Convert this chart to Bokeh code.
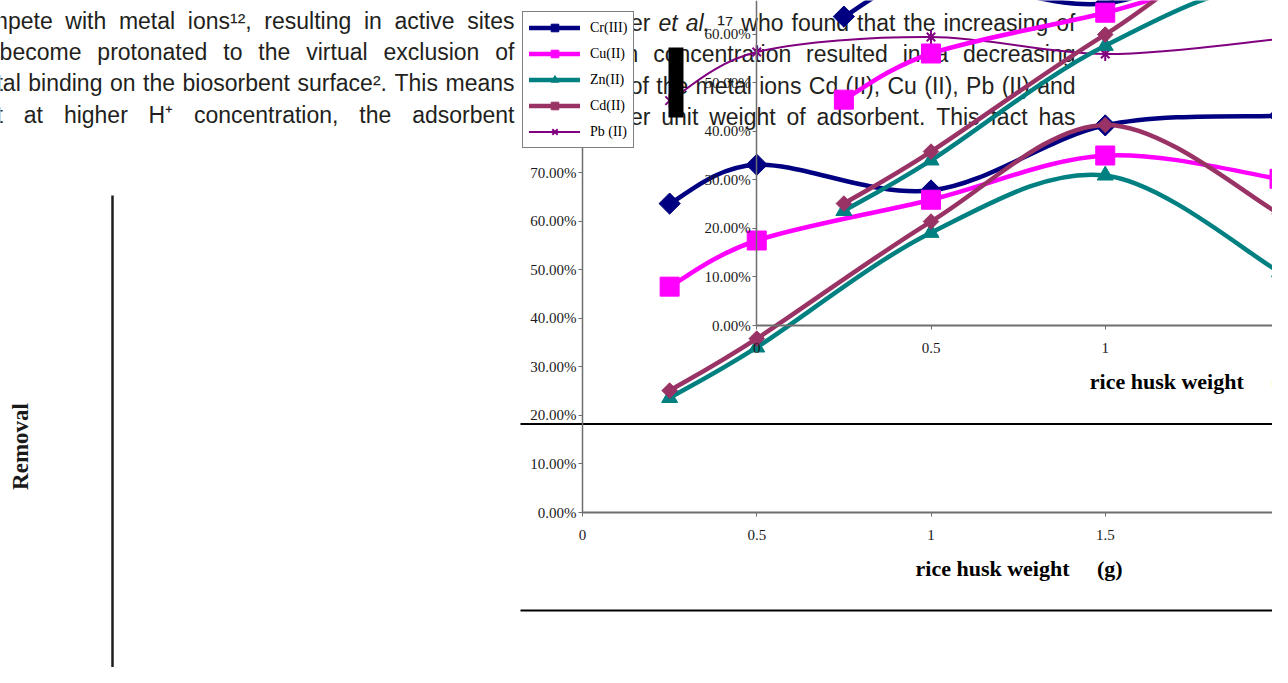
import math
from bokeh.plotting import figure
from bokeh.models import (Range1d, LinearAxis, FixedTicker, CustomJSTickFormatter,
                          Legend, LegendItem)
from bokeh.core.properties import value
from bokeh.embed import file_html
from bokeh.resources import INLINE

# ---------------- data ----------------
rice_husk_weight_g = [0.25, 0.5, 1.0, 1.5, 2.0]
cr_removal_pct = [63.6, 71.6, 66.3, 79.7, 81.7]
cu_removal_pct = [46.5, 56.0, 64.4, 73.5, 68.7]
zn_removal_pct = [23.6, 34.0, 57.6, 69.4, 49.5]
cd_removal_pct = [25.1, 35.8, 59.9, 79.8, 61.5]
pb_removal_pct = [84.8, 94.8, 97.9, 94.4, 97.5]
series_labels = ["Cr(III)", "Cu(II)", "Zn(II)", "Cd(II)", "Pb (II)"]
y_tick_values = [0, 10, 20, 30, 40, 50, 60, 70, 80, 90, 100]
x_tick_values = [0, 0.5, 1, 1.5, 2]
x_axis_title = "rice husk weight" + "\u00a0" * 5 + "(g)"
y_axis_title = "Removal"

left_column_lines = [
    "compete with metal ions\u00b9\u00b2, resulting in active sites",
    "to become protonated to the virtual exclusion of",
    "metal binding on the biosorbent surface\u00b2. This means",
    "that at higher H\u207a concentration, the adsorbent",
]
middle_column_lines = [
    "Montanher et al. \u00b9\u2077 who found that the increasing of",
    "rice bran concentration resulted in a decreasing",
    "removal of the metal ions Cd (II), Cu (II), Pb (II) and",
    "Zn (II) per unit weight of adsorbent. This fact has",
]
italic_words = {"et", "al."}

# ---------------- page geometry (picture pixels) ----------------
W, H = 1272, 667
PX0, PY0 = 0, 0
PX1, PY1 = PX0 + W, PY0 + H
PX_PER_G = 348.5
PX_PER_PCT = 4.857
BIG_ORIGIN = (582.0, 512.0)
COPY_ORIGIN = (756.25, 325.0)

p = figure(width=W, height=H, x_range=Range1d(PX0, PX1), y_range=Range1d(PY1, PY0),
           output_backend="svg", toolbar_location=None,
           x_axis_location=None, y_axis_location=None, min_border=0,
           outline_line_color=None, background_fill_color="white",
           border_fill_color="white")
p.xgrid.visible = False
p.ygrid.visible = False


def chart_ranges(origin):
    ox, oy = origin
    xr = Range1d((PX0 - ox) / PX_PER_G, (PX1 - ox) / PX_PER_G)
    yr = Range1d((oy - PY1) / PX_PER_PCT, (oy - PY0) / PX_PER_PCT)
    return xr, yr


bx, by = chart_ranges(BIG_ORIGIN)
cx, cy = chart_ranges(COPY_ORIGIN)
p.extra_x_ranges = {"bx": bx, "cx": cx}
p.extra_y_ranges = {"by": by, "cy": cy}

# ---------------- body text (justified columns) ----------------
ARIAL = dict(zip("abcdefghijklmnopqrstuvwxyz",
                 [556, 556, 500, 556, 556, 278, 556, 556, 222, 222, 500, 222, 833,
                  556, 556, 556, 556, 333, 500, 278, 556, 500, 722, 500, 500, 500]))
ARIAL.update(dict(zip("ABCDEFGHIJKLMNOPQRSTUVWXYZ",
                      [667, 667, 722, 722, 667, 611, 778, 722, 278, 500, 667, 556, 833,
                       722, 778, 667, 778, 722, 667, 611, 722, 667, 944, 667, 667, 611])))
ARIAL.update({" ": 278, ",": 278, ".": 278, "(": 333, ")": 333, "+": 584,
              "\u00b9": 333, "\u00b2": 333, "\u00b3": 333, "\u2077": 333, "\u207a": 333})
for d in "0123456789":
    ARIAL[d] = 556

BODY_SIZE = 23


def word_w(w):
    return sum(ARIAL.get(ch, 556) for ch in w) * BODY_SIZE / 1000.0


def justify(line, x0, x1):
    words = line.split(" ")
    widths = [word_w(w) for w in words]
    gap = (x1 - x0 - sum(widths)) / (len(words) - 1)
    rights, pos = [], x0
    for w in widths:
        rights.append(pos + w)
        pos += w + gap
    return words, rights


def draw_column(lines, x0, x1, baselines):
    normal = dict(x=[], y=[], text=[])
    ital = dict(x=[], y=[], text=[])
    for line, base in zip(lines, baselines):
        words, rights = justify(line, x0, x1)
        for w, r in zip(words, rights):
            if r < PX0 + 2:
                continue  # entirely outside the page crop
            tgt = ital if w in italic_words else normal
            tgt["x"].append(r)
            tgt["y"].append(base)
            tgt["text"].append(w)
    common = dict(text_align="right", text_baseline="alphabetic",
                  text_font=value("Liberation Sans"), text_font_size=f"{BODY_SIZE}px",
                  text_color="#231f20")
    p.text(x=normal["x"], y=normal["y"], text=normal["text"], **common)
    if ital["x"]:
        p.text(x=ital["x"], y=ital["y"], text=ital["text"], text_font_style="italic", **common)


draw_column(left_column_lines, -36, 514, [20, 51, 82.5, 114])
draw_column(middle_column_lines, 540, 1075, [22, 53.5, 85, 116.5])

# ---------------- page decorations ----------------
p.segment(x0=[112], y0=[195], x1=[112], y1=[700], line_color="#1e1e1e", line_width=2.5)
p.segment(x0=[520, 520], y0=[423.5, 610], x1=[1300, 1300], y1=[423.5, 610],
          line_color="black", line_width=2)

p.text(x=[19.5], y=[446], text=[y_axis_title], angle=math.pi / 2, text_align="center",
       text_baseline="middle", text_font=value("Liberation Serif"), text_font_style="bold",
       text_font_size="23px", text_color="#1a1a1a")

for (ox, oy) in (BIG_ORIGIN, COPY_ORIGIN):
    p.text(x=[915 + ox - BIG_ORIGIN[0]], y=[568 + oy - BIG_ORIGIN[1]], text=[x_axis_title],
           text_align="left", text_baseline="alphabetic",
           text_font=value("Liberation Serif"), text_font_style="bold",
           text_font_size="22px", text_color="black")

# ---------------- chart axes ----------------
def add_axes(xn, yn):
    common = dict(x_range_name=xn, y_range_name=yn, fixed_location=0,
                  axis_line_color="#6e6e6e", major_tick_line_color="#6e6e6e",
                  major_tick_in=0, major_tick_out=4, minor_tick_line_color=None,
                  major_label_text_font="Liberation Serif",
                  major_label_text_font_size="15px", major_label_text_color="#1a1a1a")
    ya = LinearAxis(bounds=(0, 100), ticker=FixedTicker(ticks=y_tick_values),
                    formatter=CustomJSTickFormatter(code="return tick.toFixed(2) + '%';"),
                    axis_line_width=1.5, major_label_standoff=2, **common)
    xa = LinearAxis(bounds=(0, 2.3), ticker=FixedTicker(ticks=x_tick_values),
                    formatter=CustomJSTickFormatter(code="return String(tick);"),
                    axis_line_width=2, major_label_standoff=13, **common)
    p.add_layout(ya, "left")
    p.add_layout(xa, "below")


add_axes("bx", "by")
add_axes("cx", "cy")

# ---------------- series ----------------
all_series = [cr_removal_pct, cu_removal_pct, zn_removal_pct, cd_removal_pct, pb_removal_pct]
styles = [
    dict(color="#000080", lw=4.5, markers=[("square", 15, math.pi / 4, 1)]),
    dict(color="#ff00ff", lw=4.5, markers=[("square", 19, 0, 1)]),
    dict(color="#008080", lw=4.5, markers=[("triangle", 16, 0, 1)]),
    dict(color="#993366", lw=4.5, markers=[("square", 11, math.pi / 4, 1)]),
    dict(color="#800080", lw=2, markers=[("x", 12, 0, 2), ("dash", 14, math.pi / 2, 2)]),
]


def smooth_bezier(xs, ys):
    n = len(xs)
    out = {k: [] for k in ("x0", "y0", "x1", "y1", "cx0", "cy0", "cx1", "cy1")}
    for i in range(n - 1):
        a, d = max(i - 1, 0), min(i + 2, n - 1)
        out["x0"].append(xs[i]); out["y0"].append(ys[i])
        out["x1"].append(xs[i + 1]); out["y1"].append(ys[i + 1])
        out["cx0"].append(xs[i] + (xs[i + 1] - xs[a]) / 6.0)
        out["cy0"].append(ys[i] + (ys[i + 1] - ys[a]) / 6.0)
        out["cx1"].append(xs[i + 1] - (xs[d] - xs[i]) / 6.0)
        out["cy1"].append(ys[i + 1] - (ys[d] - ys[i]) / 6.0)
    return out


def add_series(xn, yn):
    groups = []
    for vals, st in zip(all_series, styles):
        bz = smooth_bezier(rice_husk_weight_g, vals)
        b = p.bezier(line_color=st["color"], line_width=st["lw"], line_cap="round",
                     x_range_name=xn, y_range_name=yn, **bz)
        rs = [b]
        for (mk, sz, ang, lw) in st["markers"]:
            rs.append(p.scatter(x=rice_husk_weight_g, y=vals, marker=mk, size=sz, angle=ang,
                                fill_color=st["color"], line_color=st["color"],
                                line_width=lw, x_range_name=xn, y_range_name=yn))
        groups.append(rs)
    return groups


big_groups = add_series("bx", "by")
add_series("cx", "cy")

# black block on the page
p.quad(left=[668], right=[683], top=[47], bottom=[117], fill_color="black", line_color=None)

# ---------------- legend ----------------
legend = Legend(items=[LegendItem(label=lab, renderers=g) for lab, g in zip(series_labels, big_groups)],
                location=(522, PY1 - 148), margin=0, padding=6, spacing=7,
                glyph_height=19, glyph_width=51, label_height=19, label_standoff=10,
                label_text_font="Liberation Serif", label_text_font_size="14px",
                label_text_color="black", background_fill_color="white",
                background_fill_alpha=1.0, border_line_color="black", border_line_width=1)
p.add_layout(legend, "center")

open("out.html", "w").write(file_html(p, INLINE))
